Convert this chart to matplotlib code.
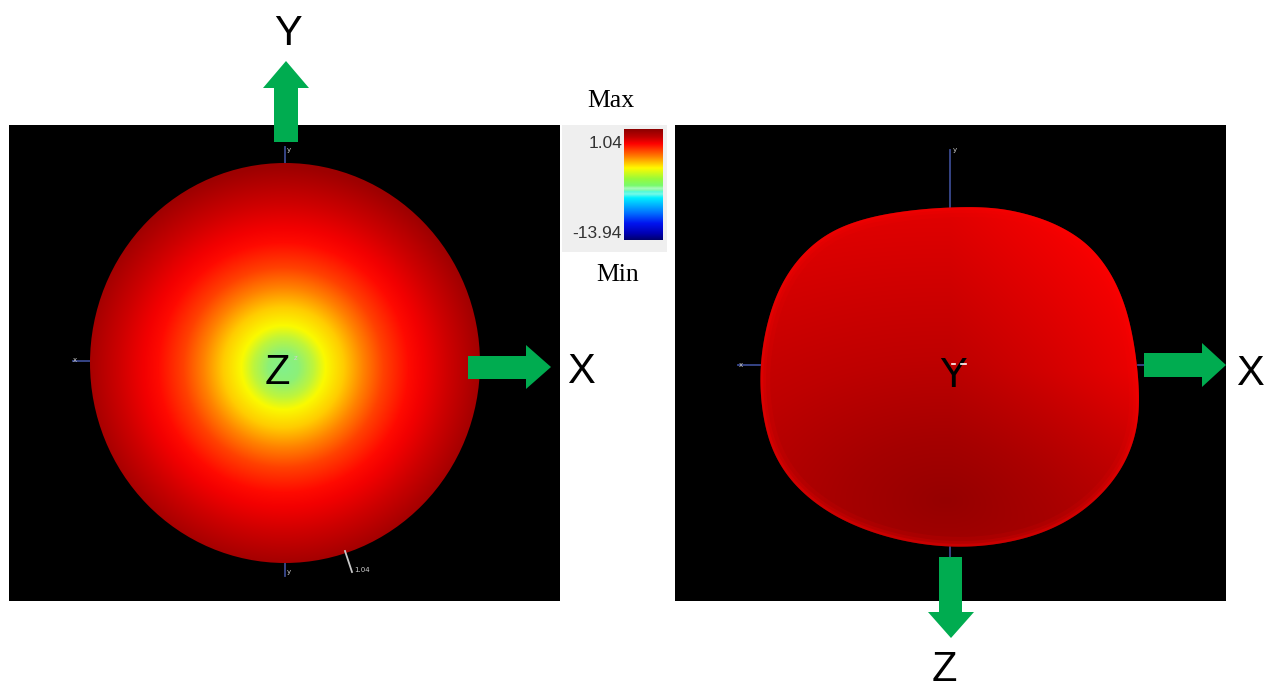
import numpy as np
import matplotlib
matplotlib.use('Agg')
import matplotlib.pyplot as plt
from matplotlib.patches import Rectangle, Ellipse, Polygon

# left pattern: radius from the Z spot (px) against colour
left_r = [0, 15, 30, 42, 60, 80, 100, 125, 140, 165, 200, 240]
left_rgb = [(130, 240, 140), (140, 240, 120), (190, 245, 60), (250, 250, 0), (255, 205, 0),
            (255, 130, 0), (255, 65, 0), (255, 10, 0), (242, 0, 0), (205, 0, 0), (158, 0, 0), (140, 0, 0)]

# right pattern: distance from the dark band against red level
right_d = [0, 60, 140, 290]
right_red = [150, 165, 190, 225]

# right pattern outline
blob_x = [970, 997, 1033, 1071, 1098, 1117, 1128, 1135, 1140, 1137, 1125, 1100, 1065, 1019,
          967, 915, 862, 815, 783, 767, 760, 761, 771, 786, 812, 848, 890, 933]
blob_y = [207, 208, 215, 231, 254, 284, 315, 348, 395, 430, 465, 497, 524, 541,
          548, 544, 530, 505, 472, 437, 395, 352, 308, 275, 243, 223, 213, 208]

# colour bar, top to bottom
bar_pos = [0, 0.07, 0.13, 0.24, 0.35, 0.45, 0.51, 0.535, 0.55, 0.565, 0.585, 0.62, 0.76, 0.85, 0.94, 1]
bar_rgb = [(140, 0, 0), (190, 0, 0), (255, 0, 0), (255, 120, 0), (255, 250, 0), (150, 250, 60), (120, 250, 110),
           (170, 250, 190), (130, 250, 170), (80, 250, 220), (120, 250, 230), (0, 240, 255), (0, 110, 255),
           (0, 20, 240), (0, 0, 180), (0, 0, 110)]
bar_labels = ['1.04', '-13.94']

arrow_green = '#00ac50'
wire_blue = '#3a4a90'


def smooth_closed(xs, ys, n=12, win=21):
    # catmull-rom through the outline points, then a running mean to take the bumps out
    p = np.column_stack([xs, ys]).astype(float)
    out = []
    for i in range(len(p)):
        p0, p1, p2, p3 = p[i - 1], p[i], p[(i + 1) % len(p)], p[(i + 2) % len(p)]
        for t in np.linspace(0, 1, n, endpoint=False):
            out.append(0.5 * (2 * p1 + (p2 - p0) * t + (2 * p0 - 5 * p1 + 4 * p2 - p3) * t ** 2
                              + (3 * p1 - p0 - 3 * p2 + p3) * t ** 3))
    out = np.array(out)
    k = np.ones(win) / win
    wrapped = np.vstack([out[-win:], out, out[:win]])
    return np.column_stack([np.convolve(wrapped[:, j], k, mode='same')[win:-win] for j in range(2)])


def radial_rgb(r, stops, rgb):
    rgb = np.array(rgb) / 255
    return np.dstack([np.interp(r, stops, rgb[:, k]) for k in range(3)])


def block_arrow(ax, pts):
    ax.add_patch(Polygon(pts, closed=True, fc=arrow_green, ec='none', zorder=5))


fig = plt.figure(figsize=(12.7, 6.9), dpi=100)
ax = fig.add_axes([0, 0, 1, 1])
ax.set_xlim(0, 1270)
ax.set_ylim(690, 0)
ax.axis('off')

# black panels
ax.add_patch(Rectangle((9, 125), 551, 476, fc='black', ec='none'))
ax.add_patch(Rectangle((675, 125), 551, 476, fc='black', ec='none'))

# left pattern
xx, yy = np.meshgrid(np.arange(85, 486), np.arange(158, 569))
rr = np.hypot(xx - 283, yy - 367)
im = ax.imshow(radial_rgb(rr, left_r, left_rgb), extent=(85, 486, 569, 158), aspect='auto', zorder=2)
im.set_clip_path(Ellipse((285, 363), 390, 400, transform=ax.transData))

# right pattern
xx, yy = np.meshgrid(np.arange(755, 1145), np.arange(200, 555))
dd = np.hypot((xx - 945) * 0.6, yy - 500)
red = np.interp(dd, right_d, right_red)
# upper right side is lighter
red = red + np.clip(xx - 950, 0, None) * 0.2 * np.clip((520 - yy) / 150, 0, 1)
red = np.clip(red, 0, 255) / 255
im2 = ax.imshow(np.dstack([red, 0 * red, 0 * red]), extent=(755, 1145, 555, 200), aspect='auto', zorder=2)
outline = smooth_closed(blob_x, blob_y)
blob = Polygon(outline, closed=True, transform=ax.transData, fc='none', ec='none')
ax.add_patch(blob)
im2.set_clip_path(blob)
# brighter rim
for lw, a in [(14, 0.1), (8, 0.15), (4, 0.25)]:
    rim, = ax.plot(np.r_[outline[:, 0], outline[0, 0]], np.r_[outline[:, 1], outline[0, 1]],
                   color='#ff0000', lw=lw, alpha=a, zorder=3, solid_joinstyle='round')
    rim.set_clip_path(blob)

# wire axes of the solver view
for x, y in [([285, 285], [147, 163]), ([73, 90], [361, 361]), ([285, 285], [563, 576]),
             ([950, 950], [150, 208]), ([738, 762], [365, 365]), ([950, 950], [547, 557]),
             ([1138, 1144], [365, 365])]:
    ax.plot(x, y, color=wire_blue, lw=1.3, zorder=1.5)
ax.plot([345, 352], [551, 572], color='#c8c8c8', lw=1.3, zorder=3)
small = dict(color='#d0d0d0', fontsize=5, ha='center', va='center', zorder=3)
ax.text(289, 150, 'y', **small)
ax.text(75, 360, 'x', **small)
ax.text(289, 572, 'y', **small)
ax.text(362, 570, '1.04', **small)
ax.text(296, 358, 'z', **small)
ax.text(955, 150, 'y', **small)
ax.text(741, 365, 'x', **small)
ax.plot([952, 955], [364, 364], color='white', lw=1.2, zorder=8)
ax.plot([961, 966], [364, 364], color='white', lw=1.2, zorder=8)

# colour bar
ax.add_patch(Rectangle((562, 125), 105, 127, fc='#efefef', ec='none'))
pos = np.linspace(0, 1, 256)
bar = radial_rgb(pos, bar_pos, bar_rgb).transpose(1, 0, 2)
ax.imshow(bar, extent=(624, 663, 240, 129), aspect='auto', zorder=2, interpolation='bilinear')
ax.text(622, 144, bar_labels[0], fontsize=12.5, family='Liberation Sans', color='#333333',
        ha='right', va='center')
ax.text(622, 233, bar_labels[1], fontsize=12.5, family='Liberation Sans', color='#333333',
        ha='right', va='center')
ax.text(611, 101, 'Max', fontsize=18.5, family='Liberation Serif', ha='center', va='center')
ax.text(618, 275, 'Min', fontsize=18.5, family='Liberation Serif', ha='center', va='center')

# green arrows
block_arrow(ax, [(274, 142), (298, 142), (298, 88), (309, 88), (286, 61), (263, 88), (274, 88)])
block_arrow(ax, [(468, 356), (468, 379), (526, 379), (526, 389), (551, 367), (526, 345), (526, 356)])
block_arrow(ax, [(1144, 353), (1144, 377), (1202, 377), (1202, 387), (1226, 365), (1202, 343), (1202, 353)])
block_arrow(ax, [(939, 557), (962, 557), (962, 612), (974, 612), (951, 638), (928, 612), (939, 612)])

# axis letters
letter = dict(fontsize=30, family='Liberation Sans', color='black', ha='center', va='baseline', zorder=7)
ax.text(288, 45, 'Y', **letter)
ax.text(581, 383, 'X', **letter)
ax.text(277, 384, 'Z', **letter)
ax.text(1250, 385, 'X', **letter)
ax.text(953, 387, 'Y', **letter)
ax.text(944, 681, 'Z', **letter)

fig.savefig('out.png', dpi=100)
